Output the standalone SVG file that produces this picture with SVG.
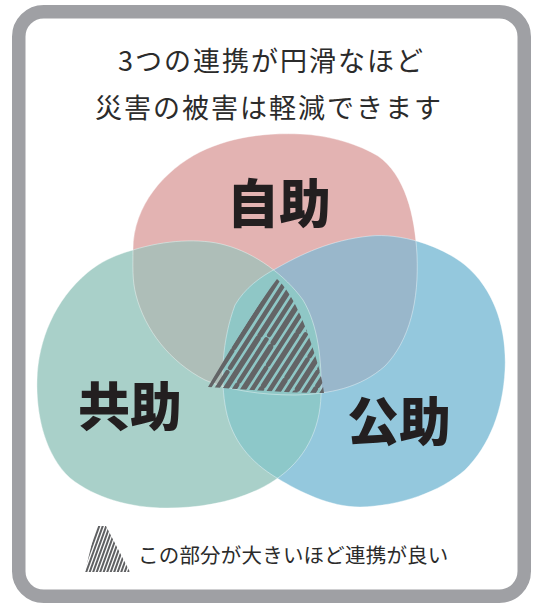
<svg xmlns="http://www.w3.org/2000/svg" width="536" height="604" viewBox="0 0 536 604">
<style>
.jp{font-family:"Noto Sans CJK JP","Noto Sans",sans-serif;fill:#2b2b2b}
.title{font-size:27px;font-weight:400;letter-spacing:2px}
.big{font-size:52px;font-weight:900;fill:#231f20;text-anchor:middle}
.legend{font-size:20.5px;font-weight:400;letter-spacing:0.2px}
.edge{fill:none;stroke:#ffffff;stroke-opacity:0.5;stroke-width:0.8}
.h{stroke:#636466;fill:none;stroke-linecap:round}
.hi{stroke:#5f6062;fill:none;stroke-width:2}
</style>
<defs>
<path id="pR" d="M133,250 C133,205 165,170 200,152 C235,135 270,133 300,134 C330,135 360,145 378,156 C405,175 415,215 417,255 C419,300 410,340 385,366 C360,388 330,394 295,395 C260,395 228,390 205,380 C170,362 145,330 136,295 C132,280 133,265 133,250 Z"/>
<path id="pG" d="M133,250 C165,240 200,238 225,245 C255,253 285,275 303,300 C318,325 322,360 321,395 C320,430 305,460 275,480 C245,500 205,508 167,508 C130,508 95,498 70,478 C45,455 36,415 37,380 C38,340 55,300 87,273 C100,262 115,255 133,250 Z"/>
<path id="pB" d="M277,268 C300,255 330,240 370,236 C400,233 440,245 465,265 C495,290 507,330 505,370 C503,410 490,445 465,470 C440,492 400,506 360,507 C330,507 300,492 277,478 C250,462 232,440 226,410 C220,380 222,340 235,305 C245,288 260,277 277,268 Z"/>
<clipPath id="cR"><use href="#pR"/></clipPath>
<clipPath id="cG"><use href="#pG"/></clipPath>
<clipPath id="cB"><use href="#pB"/></clipPath>
<clipPath id="cH"><path d="M277,279 C292,292 306,325 315,355 C319,368 322,378 324,393 C290,393 250,390 208,387 C230,350 255,308 277,279 Z"/></clipPath>
<clipPath id="cI"><path d="M96,526 L106,526 L130,572 L85,572 Z"/></clipPath>
</defs>

<rect id="frame" x="18.75" y="11.75" width="505.5" height="584.5" rx="25" fill="#ffffff" stroke="#9fa0a4" stroke-width="13.5"/>

<g id="title">
<text class="jp title" x="118" y="71">3つの連携が円滑なほど</text>
<text class="jp title" x="95" y="118">災害の被害は軽減できます</text>
</g>

<g id="node-jijo">
<use href="#pR" fill="#e3b3b2"/>
<text class="jp big" x="279" y="223">自助</text>
</g>
<g id="node-kyojo">
<use href="#pG" fill="#a9d0c9"/>
<text class="jp big" x="130" y="426">共助</text>
</g>
<g id="node-kojo">
<use href="#pB" fill="#94c8dd"/>
<text class="jp big" x="399" y="441">公助</text>
</g>

<g id="overlaps">
<use href="#pG" fill="#aebeb8" clip-path="url(#cR)"/>
<use href="#pB" fill="#99b7cb" clip-path="url(#cR)"/>
<use href="#pB" fill="#8dc8c9" clip-path="url(#cG)"/>
<g clip-path="url(#cR)"><use href="#pB" fill="#8fc7c6" clip-path="url(#cG)"/></g>
<use href="#pR" class="edge"/>
<use href="#pG" class="edge"/>
<use href="#pB" class="edge"/>
</g>

<g id="hatch" clip-path="url(#cH)">
<line class="h" x1="194" y1="410" x2="284" y2="270" stroke-width="5" stroke-dasharray="70 4 90"/>
<line class="h" x1="203" y1="410" x2="293" y2="270" stroke-width="4.5" stroke-dasharray="45 5 100"/>
<line class="h" x1="212" y1="410" x2="302" y2="270" stroke-width="5.5" stroke-dasharray="85 4 70"/>
<line class="h" x1="221" y1="410" x2="311" y2="270" stroke-width="4.5" stroke-dasharray="30 4 50 5 90"/>
<line class="h" x1="230" y1="410" x2="320" y2="270" stroke-width="5.5" stroke-dasharray="75 5 90"/>
<line class="h" x1="239" y1="410" x2="329" y2="270" stroke-width="4.5" stroke-dasharray="50 4 100"/>
<line class="h" x1="248" y1="410" x2="338" y2="270" stroke-width="5.5" stroke-dasharray="25 4 60 4 90"/>
<line class="h" x1="257" y1="410" x2="347" y2="270" stroke-width="4.5" stroke-dasharray="90 5 60"/>
<line class="h" x1="266" y1="410" x2="356" y2="270" stroke-width="5.5" stroke-dasharray="35 4 120"/>
<line class="h" x1="275" y1="410" x2="365" y2="270" stroke-width="4.5" stroke-dasharray="60 4 90"/>
<line class="h" x1="284" y1="410" x2="374" y2="270" stroke-width="5.5" stroke-dasharray="20 5 40 4 90"/>
<line class="h" x1="293" y1="410" x2="383" y2="270" stroke-width="4.5" stroke-dasharray="45 4 80"/>
<line class="h" x1="302" y1="410" x2="392" y2="270" stroke-width="5" stroke-dasharray="25 4 100"/>
<line class="h" x1="311" y1="410" x2="401" y2="270" stroke-width="4.5"/>
<line class="h" x1="320" y1="410" x2="410" y2="270" stroke-width="4.5"/>
</g>

<g id="connectors"/>

<g id="legend">
<g clip-path="url(#cI)">
<line class="hi" x1="82" y1="574" x2="100" y2="524"/>
<line class="hi" x1="85.5" y1="574" x2="103.5" y2="524"/>
<line class="hi" x1="89" y1="574" x2="107" y2="524"/>
<line class="hi" x1="92.5" y1="574" x2="110.5" y2="524"/>
<line class="hi" x1="96" y1="574" x2="114" y2="524"/>
<line class="hi" x1="99.5" y1="574" x2="117.5" y2="524"/>
<line class="hi" x1="103" y1="574" x2="121" y2="524"/>
<line class="hi" x1="106.5" y1="574" x2="124.5" y2="524"/>
<line class="hi" x1="110" y1="574" x2="128" y2="524"/>
<line class="hi" x1="113.5" y1="574" x2="131.5" y2="524"/>
<line class="hi" x1="117" y1="574" x2="135" y2="524"/>
<line class="hi" x1="120.5" y1="574" x2="138.5" y2="524"/>
<line class="hi" x1="124" y1="574" x2="142" y2="524"/>
<line class="hi" x1="127.5" y1="574" x2="145.5" y2="524"/>
</g>
<text class="jp legend" x="138" y="563">この部分が大きいほど連携が良い</text>
</g>
</svg>
